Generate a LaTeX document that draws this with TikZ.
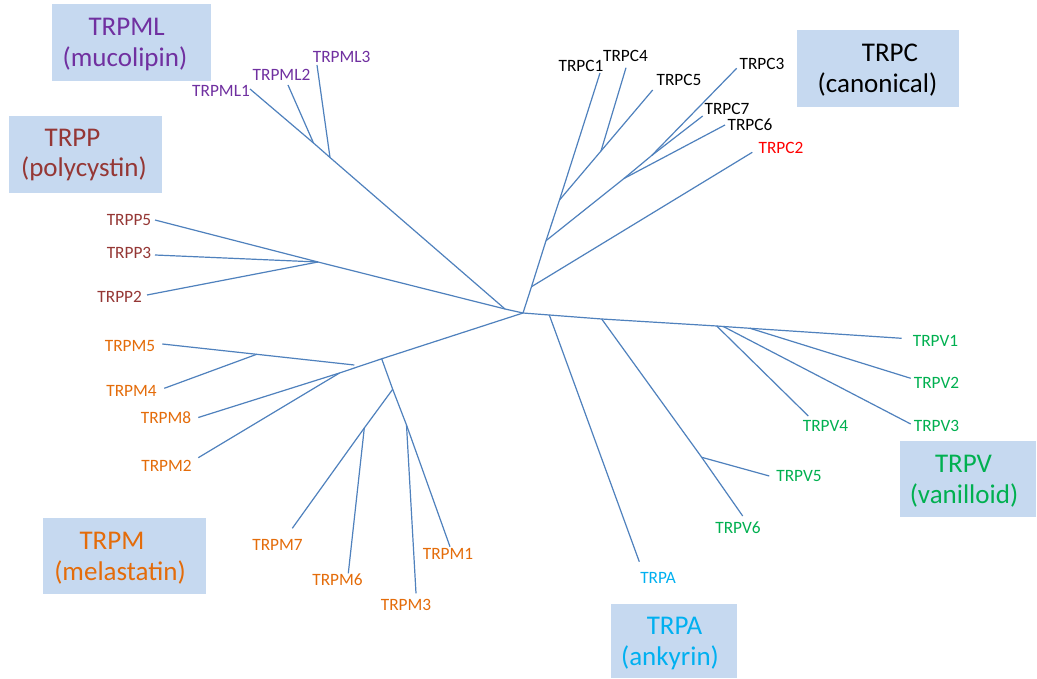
\documentclass[tikz,border=0pt]{standalone}
\usepackage{fontspec}
\setmainfont{Carlito}
\definecolor{linec}{HTML}{4F81BD}
\definecolor{boxc}{HTML}{C6D9F0}
\definecolor{cML}{HTML}{7030A0}
\definecolor{cP}{HTML}{953735}
\definecolor{cM}{HTML}{E46C0A}
\definecolor{cV}{HTML}{00B050}
\definecolor{cA}{HTML}{00B0F0}
\definecolor{cRed}{HTML}{FF0000}
\begin{document}
\begin{tikzpicture}[x=1pt,y=-1pt,
  branch/.style={draw=linec,line width=1.2pt},
  lbl/.style={anchor=base,inner sep=0pt,font=\fontsize{17.3}{20}\selectfont},
  big/.style={anchor=base,inner sep=0pt,font=\fontsize{27}{32}\selectfont},
  famBox/.style={fill=boxc,draw=none,inner sep=0pt}]
\useasboundingbox (0,0) rectangle (1037,679);
\fill[white] (0,0) rectangle (1037,679);

% family boxes
\node[famBox,minimum width=159pt,minimum height=77pt] (bML) at (131.5,42.5) {};
\node[famBox,minimum width=153pt,minimum height=77pt] (bP) at (85.5,154.5) {};
\node[famBox,minimum width=162pt,minimum height=77pt] (bC) at (878,68.5) {};
\node[famBox,minimum width=136pt,minimum height=76pt] (bV) at (968,479) {};
\node[famBox,minimum width=126pt,minimum height=74pt] (bA) at (673.7,641) {};
\node[famBox,minimum width=163pt,minimum height=76pt] (bM) at (124.5,556) {};

% family titles
\node[big,text=cML] (tML1) at (126.7,36) {TRPML};
\node[big,text=cML] (tML2) at (125,66.5) {(mucolipin)};
\node[big,text=cP] (tP1) at (72.5,146.7) {TRPP};
\node[big,text=cP] (tP2) at (84,177) {(polycystin)};
\node[big,text=black] (tC1) at (890,61.7) {TRPC};
\node[big,text=black] (tC2) at (877.5,92.5) {(canonical)};
\node[big,text=cV] (tV1) at (963.5,472) {TRPV};
\node[big,text=cV] (tV2) at (964,503) {(vanilloid)};
\node[big,text=cA] (tA1) at (674.5,634) {TRPA};
\node[big,text=cA] (tA2) at (670,665) {(ankyrin)};
\node[big,text=cM] (tM1) at (112,549) {TRPM};
\node[big,text=cM] (tM2) at (120,580) {(melastatin)};

% tree coordinates
\coordinate (R) at (523,313);
% TRPC
\coordinate (Cn2) at (531.5,286.7);
\coordinate (Cn3) at (546,240.7);
\coordinate (Cn4) at (559.5,200);
\coordinate (C1e) at (600,73);
\coordinate (C2e) at (752.3,152.3);
\coordinate (Cn6) at (624,178.5);
\coordinate (Cn7) at (651.7,155.5);
\coordinate (C3e) at (736.7,68.3);
\coordinate (C7e) at (702.7,116);
\coordinate (C6e) at (725,125);
\coordinate (Cn45) at (601,151);
\coordinate (C5e) at (652.7,90);
\coordinate (C4e) at (626,67.7);
% TRPML / TRPP
\coordinate (J) at (505,309);
\coordinate (Pn) at (318,262);
\coordinate (P5e) at (155,220);
\coordinate (P3e) at (155,255);
\coordinate (P2e) at (147,295);
\coordinate (MLa) at (330,157.5);
\coordinate (MLb) at (313.5,143);
\coordinate (ML1e) at (250,89);
\coordinate (ML2e) at (288,85);
\coordinate (ML3e) at (317,65);
% TRPM
\coordinate (Ma) at (381.7,358.8);
\coordinate (Mc) at (339.5,373);
\coordinate (M8e) at (198.3,417.5);
\coordinate (M2e) at (198.3,457.7);
\coordinate (Mb) at (354.3,365);
\coordinate (M54) at (256.7,354.3);
\coordinate (M5e) at (162.3,344);
\coordinate (M4e) at (164.3,388.3);
\coordinate (M73) at (392.7,389.3);
\coordinate (Mm3) at (406.5,425);
\coordinate (M1e) at (450,546.7);
\coordinate (M3e) at (416,593.3);
\coordinate (M76) at (364.3,428);
\coordinate (M7e) at (292.3,528.3);
\coordinate (M6e) at (348.3,573.3);
% TRPV / TRPA
\coordinate (Va) at (549.3,315);
\coordinate (Vb) at (601.7,319);
\coordinate (Vc) at (716.7,326);
\coordinate (Vd) at (723.3,326.5);
\coordinate (Ve) at (750,328.3);
\coordinate (V1e) at (901.7,338.3);
\coordinate (Ae) at (639.3,561.7);
\coordinate (V56) at (701.7,457.3);
\coordinate (V6e) at (742.7,516);
\coordinate (V5e) at (769.3,476);
\coordinate (V4e) at (808.3,416);
\coordinate (V3e) at (910.7,424);
\coordinate (V2e) at (910.7,378.3);

% branches: TRPC
\draw[branch] (R) -- (Cn2) -- (Cn3) -- (Cn4) -- (C1e);
\draw[branch] (Cn2) -- (C2e);
\draw[branch] (Cn3) -- (Cn6) -- (Cn7) -- (C3e);
\draw[branch] (Cn7) -- (C7e);
\draw[branch] (Cn6) -- (C6e);
\draw[branch] (Cn4) -- (Cn45) -- (C5e);
\draw[branch] (Cn45) -- (C4e);
% TRPML / TRPP
\draw[branch] (R) -- (J) -- (Pn) -- (P5e);
\draw[branch] (Pn) -- (P3e);
\draw[branch] (Pn) -- (P2e);
\draw[branch] (J) -- (MLa) -- (MLb) -- (ML1e);
\draw[branch] (MLb) -- (ML2e);
\draw[branch] (MLa) -- (ML3e);
% TRPM
\draw[branch] (R) -- (Ma) -- (Mc) -- (M8e);
\draw[branch] (Mc) -- (M2e);
\draw[branch] (Mb) -- (M54) -- (M5e);
\draw[branch] (M54) -- (M4e);
\draw[branch] (Ma) -- (M73) -- (Mm3) -- (M1e);
\draw[branch] (Mm3) -- (M3e);
\draw[branch] (M73) -- (M76) -- (M7e);
\draw[branch] (M76) -- (M6e);
% TRPV / TRPA
\draw[branch] (R) -- (Va) -- (Vb) -- (Vc) -- (Vd) -- (Ve) -- (V1e);
\draw[branch] (Va) -- (Ae);
\draw[branch] (Vb) -- (V56) -- (V6e);
\draw[branch] (V56) -- (V5e);
\draw[branch] (Vc) -- (V4e);
\draw[branch] (Vd) -- (V3e);
\draw[branch] (Ve) -- (V2e);

% leaf labels
\node[lbl,text=cML] (lML1) at (221,97) {TRPML1};
\node[lbl,text=cML] (lML2) at (281.5,81) {TRPML2};
\node[lbl,text=cML] (lML3) at (341.7,63) {TRPML3};
\node[lbl,text=cP] (lP5) at (129,226) {TRPP5};
\node[lbl,text=cP] (lP3) at (129,259) {TRPP3};
\node[lbl,text=cP] (lP2) at (119.7,302) {TRPP2};
\node[lbl,text=black] (lC1) at (581,72) {TRPC1};
\node[lbl,text=black] (lC4) at (625.5,62) {TRPC4};
\node[lbl,text=black] (lC5) at (679,86) {TRPC5};
\node[lbl,text=black] (lC3) at (762,70) {TRPC3};
\node[lbl,text=black] (lC7) at (727,114.3) {TRPC7};
\node[lbl,text=black] (lC6) at (750,131) {TRPC6};
\node[lbl,text=cRed] (lC2) at (781,154) {TRPC2};
\node[lbl,text=cM] (lM5) at (130,352) {TRPM5};
\node[lbl,text=cM] (lM4) at (131.5,396) {TRPM4};
\node[lbl,text=cM] (lM8) at (166,423) {TRPM8};
\node[lbl,text=cM] (lM2) at (166.5,471.7) {TRPM2};
\node[lbl,text=cM] (lM7) at (277.5,550.7) {TRPM7};
\node[lbl,text=cM] (lM6) at (337.5,585) {TRPM6};
\node[lbl,text=cM] (lM3) at (406,610.7) {TRPM3};
\node[lbl,text=cM] (lM1) at (448,559) {TRPM1};
\node[lbl,text=cV] (lV1) at (935.5,346) {TRPV1};
\node[lbl,text=cV] (lV2) at (936.5,388.3) {TRPV2};
\node[lbl,text=cV] (lV3) at (936.5,431) {TRPV3};
\node[lbl,text=cV] (lV4) at (825.5,431) {TRPV4};
\node[lbl,text=cV] (lV5) at (799,481) {TRPV5};
\node[lbl,text=cV] (lV6) at (738,533) {TRPV6};
\node[lbl,text=cA] (lA) at (658,583) {TRPA};
\end{tikzpicture}
\end{document}
